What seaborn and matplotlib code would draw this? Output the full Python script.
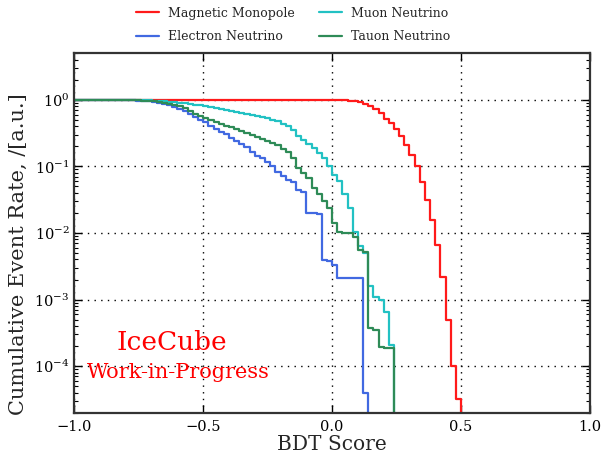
import numpy as np
import pandas as pd
import matplotlib
matplotlib.use("Agg")
import matplotlib.pyplot as plt
import seaborn as sns
from matplotlib.ticker import LogLocator, MultipleLocator, NullFormatter

# BDT score binning (left edges of 0.02-wide bins)
bin_width = 0.02
score_edges = np.round(np.arange(-1.0, 1.0 + 1e-9, bin_width), 2)

# Cumulative event rate per bin (fraction of events with score >= left edge),
# listed from the first bin where each sample drops below 1; the trailing 0 ends the curve.
monopole_start = 0.02
monopole_rate = [0.998, 0.991, 0.975, 0.955, 0.923, 0.871, 0.813, 0.733, 0.631, 0.518,
                 0.447, 0.363, 0.282, 0.209, 0.148, 0.102, 0.0575, 0.0316, 0.0158, 0.0066,
                 0.00219, 0.00049, 1.0e-4, 3.2e-5, 0.0]

electron_start = -0.80
electron_rate = [0.993, 0.986, 0.977, 0.966, 0.955, 0.933, 0.902, 0.861, 0.822, 0.776,
                 0.724, 0.676, 0.617, 0.550, 0.501, 0.457, 0.407, 0.363, 0.331, 0.302,
                 0.269, 0.245, 0.219, 0.195, 0.166, 0.145, 0.132, 0.115, 0.100, 0.0832,
                 0.0724, 0.0631, 0.0575, 0.0437, 0.0417, 0.0200, 0.0200, 0.0195, 0.00398, 0.0038,
                 0.00331, 0.00214, 0.00214, 0.00214, 0.00214, 0.00214, 3.9e-5, 0.0]

muon_start = -0.80
muon_rate = [0.995, 0.993, 0.991, 0.986, 0.982, 0.973, 0.964, 0.951, 0.933, 0.918,
             0.902, 0.881, 0.861, 0.841, 0.822, 0.804, 0.776, 0.759, 0.724, 0.700,
             0.676, 0.646, 0.624, 0.603, 0.582, 0.562, 0.543, 0.525, 0.501, 0.479,
             0.437, 0.398, 0.347, 0.288, 0.251, 0.219, 0.186, 0.158, 0.132, 0.102,
             0.0741, 0.0603, 0.0380, 0.0234, 0.0105, 0.0063, 0.0050, 0.00158, 0.0011, 0.0010,
             0.00066, 0.00021, 0.0]

tauon_start = -0.80
tauon_rate = [0.995, 0.991, 0.986, 0.977, 0.966, 0.955, 0.933, 0.902, 0.871, 0.832,
              0.794, 0.741, 0.676, 0.617, 0.575, 0.537, 0.501, 0.468, 0.437, 0.407,
              0.389, 0.363, 0.339, 0.316, 0.295, 0.275, 0.257, 0.240, 0.224, 0.209,
              0.182, 0.166, 0.132, 0.0955, 0.0794, 0.0661, 0.0479, 0.0380, 0.0302, 0.0240,
              0.0141, 0.0102, 0.0100, 0.0100, 0.0087, 0.0055, 0.0052, 0.00037, 0.000355, 0.000195,
              0.00019, 0.00019, 0.0]

samples = ["Magnetic Monopole", "Electron Neutrino", "Muon Neutrino", "Tauon Neutrino"]
colors = ["#ff1a1a", "#4169e1", "#22c1c3", "#2e8b57"]
starts = [monopole_start, electron_start, muon_start, tauon_start]
rates = [monopole_rate, electron_rate, muon_rate, tauon_rate]

sns.set_style("ticks")
plt.rcParams["font.family"] = ["DejaVu Serif"]
plt.rcParams["mathtext.fontset"] = "dejavuserif"

fig = plt.figure(figsize=(6.03, 4.57), dpi=100)
ax = fig.add_axes([0.1232, 0.0969, 0.8552, 0.7865])

for name, col, start, vals in zip(samples, colors, starts, rates):
    n_lead = int(np.argmin(np.abs(score_edges - start)))
    full = np.concatenate([np.ones(n_lead), np.asarray(vals, dtype=float)])
    df = pd.DataFrame({"score": score_edges[:len(full)], "rate": full})
    sns.lineplot(data=df, x="score", y="rate", ax=ax, color=col, lw=1.6,
                 drawstyle="steps-post", estimator=None, sort=False, label=name)

ax.set_yscale("log")
ax.set_xlim(-1.0, 1.0)
ax.set_ylim(2e-5, 5)
ax.xaxis.set_major_locator(MultipleLocator(0.5))
ax.yaxis.set_major_locator(LogLocator(base=10, numticks=12))
ax.yaxis.set_minor_locator(LogLocator(base=10, subs=np.arange(2, 10), numticks=12))
ax.yaxis.set_minor_formatter(NullFormatter())

ax.grid(True, which="major", color="black", linestyle=(0, (1, 3.8)), linewidth=1.0)
ax.tick_params(which="both", direction="in", top=True, right=True, colors="black",
               labelsize=10.5)
ax.tick_params(which="major", length=6, width=1)
ax.tick_params(which="minor", length=3, width=0.8)
ax.tick_params(axis="x", pad=5)
for sp in ax.spines.values():
    sp.set_visible(True)
    sp.set_linewidth(1.6)
    sp.set_color("#333333")

ax.set_xlabel("BDT Score", fontsize=14.5, labelpad=1)
ax.set_ylabel("Cumulative Event Rate, /[a.u.]", fontsize=15)
ax.yaxis.set_label_coords(-0.09, 0.44)

ax.text(0.189, 0.194, "IceCube", transform=ax.transAxes, color="red",
        fontsize=19, ha="center", va="center")
ax.text(0.201, 0.113, "Work-in-Progress", transform=ax.transAxes, color="red",
        fontsize=15, ha="center", va="center")

handles, labels = ax.get_legend_handles_labels()
ax.legend(handles, labels, ncol=2, loc="lower center", bbox_to_anchor=(0.424, 1.0),
          frameon=False, fontsize=9, handlelength=1.9, handletextpad=0.7,
          columnspacing=1.9, borderaxespad=0.4, labelspacing=0.85)

fig.savefig("out.png", dpi=100)
